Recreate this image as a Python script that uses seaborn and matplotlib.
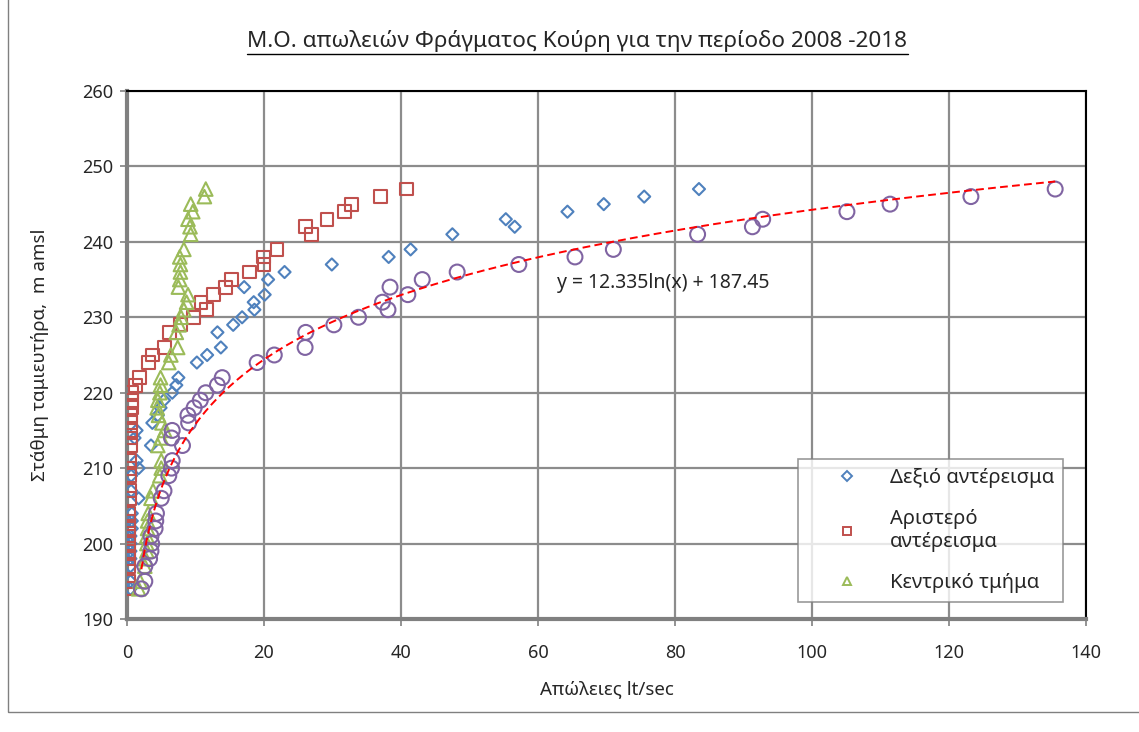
import numpy as np
import pandas as pd
import seaborn as sns
import matplotlib
matplotlib.use("Agg")
import matplotlib.pyplot as plt
from matplotlib.lines import Line2D
from matplotlib.patches import Rectangle

sns.set_theme(style="white")
plt.rcParams['font.family'] = ['Noto Sans', 'DejaVu Sans']

# reservoir levels (m amsl)
levels = [194, 195, 197, 198, 199, 200, 201, 202, 203, 204, 206, 207, 209, 210, 211,
          213, 214, 215, 216, 217, 218, 219, 220, 221, 222, 224, 225, 226, 228, 229,
          230, 231, 232, 233, 234, 235, 236, 237, 238, 239, 241, 242, 243, 244, 245,
          246, 247]

# seepage lt/sec per section
right_abut = [0.5, 0.5, 0.5, 0.5, 0.5, 0.5, 0.5, 0.7, 0.7, 0.7, 1.7, 0.6, 0.6, 1.7, 1.4,
              3.5, 1.1, 1.4, 3.7, 4.5, 4.9, 5.4, 6.6, 7.2, 7.5, 10.2, 11.7, 13.7, 13.2, 15.5,
              16.8, 18.6, 18.5, 20.1, 17.1, 20.6, 23.0, 29.9, 38.2, 41.4, 47.5, 56.6, 55.3, 64.3, 69.6,
              75.5, 83.5]
left_abut = [0.3, 0.3, 0.3, 0.3, 0.3, 0.3, 0.3, 0.3, 0.3, 0.3, 0.4, 0.4, 0.4, 0.4, 0.4,
             0.5, 0.5, 0.5, 0.5, 0.5, 0.6, 0.6, 0.7, 1.2, 1.8, 3.1, 3.7, 5.5, 6.2, 7.8,
             9.7, 11.6, 10.8, 12.6, 14.4, 15.3, 17.9, 20.0, 19.9, 21.9, 26.9, 26.0, 29.2, 31.7, 32.8,
             37.0, 40.8]
central = [1.7, 1.9, 2.6, 2.7, 2.9, 2.9, 2.9, 3.0, 3.0, 3.1, 3.5, 3.8, 4.8, 5.0, 5.0,
           4.5, 5.0, 5.5, 5.1, 4.6, 4.4, 4.5, 4.8, 4.9, 4.9, 6.1, 6.4, 7.4, 7.2, 7.6,
           7.9, 8.3, 8.7, 8.9, 7.5, 7.7, 7.8, 7.8, 7.7, 8.3, 9.3, 9.2, 8.9, 9.6, 9.3,
           11.3, 11.5]
total = [2.1, 2.6, 2.6, 3.3, 3.5, 3.6, 3.5, 4.1, 4.2, 4.3, 5.0, 5.4, 6.1, 6.5, 6.6,
         8.1, 6.5, 6.6, 9.0, 8.9, 9.8, 10.7, 11.5, 13.2, 13.9, 19.0, 21.5, 26.0, 26.1, 30.2,
         33.8, 38.1, 37.3, 41.0, 38.4, 43.1, 48.2, 57.2, 65.4, 71.0, 83.3, 91.3, 92.8, 105.1, 111.4,
         123.2, 135.5]

trend_a, trend_b = 12.335, 187.45

fig = plt.figure(figsize=(11.39, 7.32), dpi=100)
ax = fig.add_axes([127 / 1139, 1 - 619 / 732, (1086 - 127) / 1139, (619 - 91) / 732])

styles = [
    (right_abut, 'D', '#4F81BD', 38, 'Δεξιό αντέρεισμα'),
    (left_abut, 's', '#C0504D', 85, 'Αριστερό\nαντέρεισμα'),
    (central, '^', '#9BBB59', 95, 'Κεντρικό τμήμα'),
    (total, 'o', '#8064A2', 115, None),
]
handles = []
for xs, mk, col, sz, lab in styles:
    sns.scatterplot(x=xs, y=levels, marker=mk, s=sz, color=col, facecolor='none',
                    edgecolor=col, linewidth=1.5, ax=ax, zorder=3)
    if lab:
        handles.append(Line2D([], [], ls='none', marker=mk, markersize=6 if mk != 'D' else 5,
                              markerfacecolor='none', markeredgecolor=col, markeredgewidth=1.4,
                              label=lab))

# logarithmic trendline of the total seepage
tx = np.linspace(min(total), max(total), 300)
trend = pd.DataFrame({'x': tx, 'y': trend_a * np.log(tx) + trend_b})
sns.lineplot(data=trend, x='x', y='y', color='#FF0000', lw=1.4, dashes=(4, 2.2), ax=ax, zorder=4)
ax.text(62.8, 234.5, 'y = 12.335ln(x) + 187.45', fontsize=14, ha='left', va='center', zorder=5)

ax.set_xlim(0, 140)
ax.set_ylim(190, 260)
ax.set_xticks(range(0, 141, 20))
ax.set_yticks(range(190, 261, 10))
ax.grid(True, color='#8c8c8c', lw=1.6)
ax.set_axisbelow(True)
for side in ['left', 'bottom']:
    ax.spines[side].set_color('#808080')
    ax.spines[side].set_linewidth(3)
for side in ['top', 'right']:
    ax.spines[side].set_color('black')
    ax.spines[side].set_linewidth(1.5)
ax.tick_params(axis='both', length=5, width=1.2, color='#808080', direction='out',
               labelsize=13, bottom=True, left=True)
ax.tick_params(axis='x', pad=13)
ax.tick_params(axis='y', pad=5)
ax.set_xlabel('Απώλειες lt/sec', fontsize=13.5, labelpad=13)
ax.set_ylabel('Στάθμη ταμιευτήρα,  m amsl', fontsize=13.5, labelpad=24)

fig.text(0.507, 1 - 41 / 732, 'Μ.Ο. απωλειών Φράγματος Κούρη για την περίοδο 2008 -2018',
         fontsize=16.2, ha='center', va='center')
title_line = Line2D([247 / 1139, 908 / 1139], [1 - 54 / 732, 1 - 54 / 732], color='black', lw=1.0,
                    transform=fig.transFigure)
fig.add_artist(title_line)

leg = fig.legend(handles=handles, loc='upper left', bbox_to_anchor=(798 / 1139, 1 - 459 / 732),
                 frameon=True, fancybox=False, edgecolor='#808080', fontsize=14.5,
                 handletextpad=0.1, borderpad=0.45, labelspacing=1.05, handlelength=4.0,
                 borderaxespad=0)
leg.get_frame().set_linewidth(1.2)

fig.add_artist(Rectangle((8 / 1139, 1 - 712 / 732), 1.2, 1.2, transform=fig.transFigure,
                         fill=False, edgecolor='#808080', lw=1.0))

fig.savefig('out.png', dpi=100)
